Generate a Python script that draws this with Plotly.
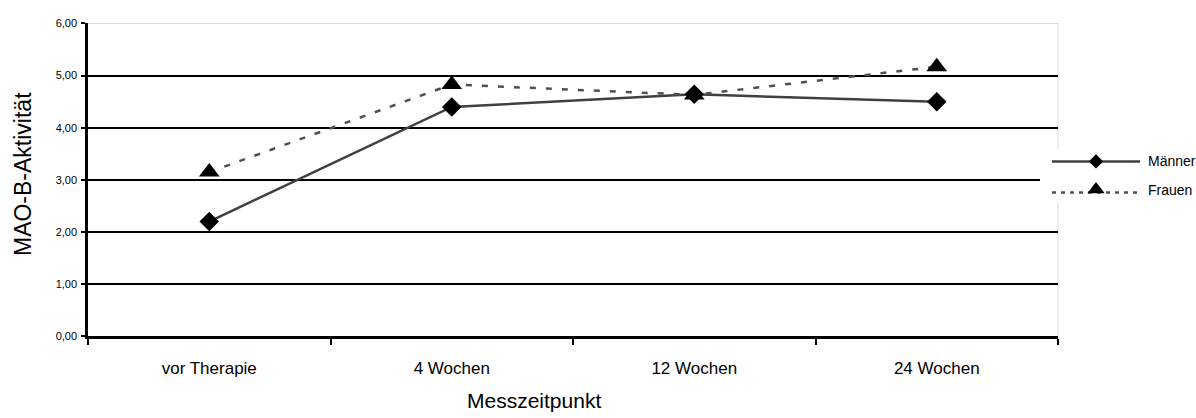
import plotly.graph_objects as go

# ---- data ----
categories = ["vor Therapie", "4 Wochen", "12 Wochen", "24 Wochen"]
maenner = [2.20, 4.40, 4.64, 4.50]
frauen = [3.15, 4.83, 4.63, 5.17]
y_ticks = [0, 1, 2, 3, 4, 5, 6]
grid_vals = [1, 2, 3, 4, 5]
series_names = ["Männer", "Frauen"]

W, H = 1196, 418
# plot area in pixels
L, R, T, B = 88, 1058, 18, 340

FONT = "Liberation Sans, Arial, sans-serif"

fig = go.Figure()

fig.add_trace(go.Scatter(
    x=categories, y=maenner, mode="lines+markers", name=series_names[0],
    line=dict(color="#404040", width=2.5),
    marker=dict(symbol="diamond", size=15, color="black"),
    showlegend=False, xaxis="x", yaxis="y"))
fig.add_trace(go.Scatter(
    x=categories, y=frauen, mode="lines+markers", name=series_names[1],
    line=dict(color="#505050", width=2.5, dash="6px,10px"),
    marker=dict(symbol="triangle-up", size=18, color="black"),
    showlegend=False, xaxis="x", yaxis="y"))

# ---- custom legend (pixel coordinate overlay subplot) ----
leg_rows = [160, 189]
fig.add_trace(go.Scatter(x=[1052, 1140], y=[leg_rows[0]] * 2, mode="lines",
                         line=dict(color="#404040", width=2.5),
                         showlegend=False, hoverinfo="skip", xaxis="x2", yaxis="y2"))
fig.add_trace(go.Scatter(x=[1096], y=[leg_rows[0]], mode="markers",
                         marker=dict(symbol="diamond", size=11, color="black"),
                         showlegend=False, hoverinfo="skip", xaxis="x2", yaxis="y2"))
fig.add_trace(go.Scatter(x=[1052, 1140], y=[leg_rows[1] + 3] * 2, mode="lines",
                         line=dict(color="#505050", width=2.5, dash="4px,5px"),
                         showlegend=False, hoverinfo="skip", xaxis="x2", yaxis="y2"))
fig.add_trace(go.Scatter(x=[1096], y=[leg_rows[1]], mode="markers",
                         marker=dict(symbol="triangle-up", size=15, color="black"),
                         showlegend=False, hoverinfo="skip", xaxis="x2", yaxis="y2"))

annotations = []
for name, yy in zip(series_names, leg_rows):
    annotations.append(dict(x=1146, y=yy, xref="x2", yref="y2", text=name,
                            showarrow=False, xanchor="left", yanchor="middle",
                            font=dict(family=FONT, size=14, color="black")))
# axis titles
annotations.append(dict(x=23 / W, y=1 - 173 / H, xref="paper", yref="paper",
                        text="MAO-B-Aktivität", textangle=-90, showarrow=False,
                        xanchor="center", yanchor="middle",
                        font=dict(family=FONT, size=23, color="black")))
annotations.append(dict(x=534 / W, y=1 - 406 / H, xref="paper", yref="paper",
                        text="Messzeitpunkt", showarrow=False,
                        xanchor="center", yanchor="middle",
                        font=dict(family=FONT, size=21, color="black")))

shapes = [
    # legend background
    dict(type="rect", xref="x2", yref="y2", x0=1040, x1=1196, y0=147, y1=202,
         fillcolor="white", line=dict(width=0), layer="below"),
    # top and right light border of plot area
    dict(type="line", xref="x domain", yref="y domain", x0=0, x1=1, y0=1, y1=1,
         line=dict(color="#d9d9d9", width=1), layer="below"),
    dict(type="line", xref="x domain", yref="y domain", x0=1, x1=1, y0=0, y1=1,
         line=dict(color="#d9d9d9", width=1), layer="below"),
]

fig.update_layout(
    width=W, height=H, autosize=False,
    margin=dict(l=0, r=0, t=0, b=0),
    paper_bgcolor="white", plot_bgcolor="rgba(0,0,0,0)",
    separators=",.",
    font=dict(family=FONT, color="black"),
    xaxis=dict(
        domain=[L / W, R / W], type="category", range=[-0.5, 3.5],
        tickson="boundaries", ticks="outside", ticklen=6, tickwidth=2, tickcolor="black",
        showline=True, linecolor="black", linewidth=2.5, showgrid=False, zeroline=False,
        tickfont=dict(family=FONT, size=17, color="black"), ticklabelstandoff=15,
        anchor="y"),
    yaxis=dict(
        domain=[1 - B / H, 1 - T / H], range=[0, 6], tickmode="array", tickvals=y_ticks,
        tickformat=".2f", ticks="outside", ticklen=4, tickwidth=2, tickcolor="black",
        showline=True, linecolor="black", linewidth=2.5, showgrid=False, zeroline=False,
        tickfont=dict(family=FONT, size=11, color="black"), ticklabelstandoff=2,
        minor=dict(tickmode="array", tickvals=grid_vals, showgrid=True,
                   gridcolor="black", gridwidth=2, ticks=""),
        anchor="x"),
    xaxis2=dict(domain=[0, 1], range=[0, W], visible=False, anchor="y2", fixedrange=True),
    yaxis2=dict(domain=[0, 1], range=[H, 0], visible=False, anchor="x2", fixedrange=True),
    annotations=annotations,
    shapes=shapes,
    showlegend=False,
)

fig.write_html("out.html")
